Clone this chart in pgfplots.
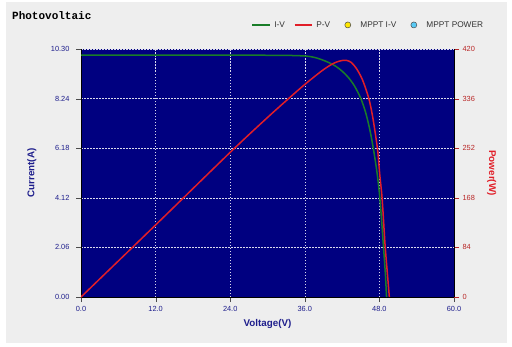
\documentclass[border=0pt]{standalone}
\usepackage{fontspec}
\setmainfont{Liberation Sans}
\newfontfamily\monofont{Liberation Mono}
\usepackage{pgfplots}
\pgfplotsset{compat=1.18}
\usetikzlibrary{backgrounds}
\definecolor{navybg}{RGB}{0,0,128}
\definecolor{panel}{RGB}{238,238,238}
\definecolor{ivgreen}{RGB}{25,125,40}
\definecolor{pvred}{RGB}{225,30,40}
\definecolor{ticknavy}{RGB}{30,30,140}
\definecolor{tickred}{RGB}{185,40,40}
\begin{document}
\begin{tikzpicture}
\begin{axis}[name=ax, scale only axis, width=373pt, height=248pt,
  xmin=0, xmax=60, ymin=0, ymax=10.3,
  axis background/.style={fill=navybg},
  axis x line*=bottom, axis y line*=left, axis line style={-, black},
  xtick={0,12,24,36,48,60}, xticklabels={0.0,12.0,24.0,36.0,48.0,60.0},
  ytick={0,2.06,4.12,6.18,8.24,10.30}, yticklabels={0.00,2.06,4.12,6.18,8.24,10.30},
  tick align=outside, major tick length=5pt,
  tick style={black!70},
  tick label style={font=\fontsize{7.4}{9}\selectfont, text=ticknavy},
  yticklabel style={xshift=-3pt},
  xticklabel style={yshift=-1pt},
  grid=major,
  major grid style={white!85!navybg, dash pattern=on 1.5pt off 1.5pt, line width=0.5pt},
  xlabel={Voltage(V)}, ylabel={Current(A)},
  every axis x label/.style={at={(axis description cs:0.5,-0.110)}, anchor=center, font=\bfseries\fontsize{9.8}{11}\selectfont, text=ticknavy},
  every axis y label/.style={at={(axis description cs:-0.132,0.5)}, anchor=center, rotate=90, font=\bfseries\fontsize{9.8}{11}\selectfont, text=ticknavy},
  title={\monofont\bfseries Photovoltaic},
  title style={at={(axis description cs:-0.194,1.109)}, anchor=west, font=\fontsize{11}{13}\selectfont},
  legend columns=4,
  legend style={draw=none, fill=none, at={(axis description cs:1.092,1.097)}, anchor=east,
    font=\fontsize{8.3}{10}\selectfont, text=black!80,
    /tikz/every odd column/.append style={column sep=2pt},
    /tikz/every even column/.append style={column sep=7pt}},
  legend cell align=left,
]
\addplot[ivgreen, line width=1.5pt, smooth] coordinates {
(0,10.05) (10,10.05) (20,10.05) (30,10.04) (34,10.03) (36,10.01) (37,9.98) (38,9.92)
(39,9.83) (40,9.72) (41,9.58) (42,9.38) (43,9.12) (44,8.76) (45,8.25) (45.8,7.65)
(46.5,6.9) (47.1,6.05) (47.6,5.2) (48.0,4.3) (48.35,3.2) (48.65,2.1) (48.95,1.0) (49.15,0)
};
\addlegendentry{I-V}
\addlegendimage{pvred, line width=1.5pt}
\addlegendentry{P-V}
\addlegendimage{legend image code/.code={\path[draw=none,fill=none] (0cm,-3pt) rectangle (0.6cm,3pt); \draw[black!70, line width=0.5pt, fill=yellow!90!orange] (0.3cm,0cm) circle (3pt);}}
\addlegendentry{MPPT I-V}
\addlegendimage{legend image code/.code={\path[draw=none,fill=none] (0cm,-3pt) rectangle (0.6cm,3pt); \draw[black!70, line width=0.5pt, fill=cyan!65!white] (0.3cm,0cm) circle (3pt);}}
\addlegendentry{MPPT POWER}
\end{axis}
\begin{axis}[scale only axis, width=373pt, height=248pt,
  xmin=0, xmax=60, ymin=0, ymax=420,
  axis x line=none, axis y line*=right, axis line style={-, black},
  ytick={0,84,168,252,336,420}, yticklabels={0,84,168,252,336,420},
  tick align=outside, major tick length=5pt,
  ytick style={tickred},
  tick label style={font=\fontsize{7.4}{9}\selectfont, text=tickred},
  ylabel={Power(W)},
  every axis y label/.style={at={(axis description cs:1.101,0.5)}, anchor=center, rotate=-90, font=\bfseries\fontsize{9.8}{11}\selectfont, text=pvred},
]
\addplot[pvred, line width=1.5pt, smooth] coordinates {
(0,0) (12,122) (24,245) (30,304) (33.6,338) (36,360) (38,377) (39,385) (40,392)
(41,397.5) (42,400.5) (42.8,400.5) (43.5,397) (44.3,387) (45.1,372) (45.7,356)
(46.4,332) (47,300) (47.7,250) (48.05,208) (48.45,165) (48.9,90) (49.3,38) (49.6,0)
};
\end{axis}
\begin{pgfonlayer}{background}
\fill[white] ([xshift=-81pt,yshift=-49pt]ax.south west) rectangle ([xshift=58pt,yshift=49pt]ax.north east);
\fill[panel] ([xshift=-75pt,yshift=-46pt]ax.south west) rectangle ([xshift=53pt,yshift=47pt]ax.north east);
\end{pgfonlayer}
\end{tikzpicture}
\end{document}
